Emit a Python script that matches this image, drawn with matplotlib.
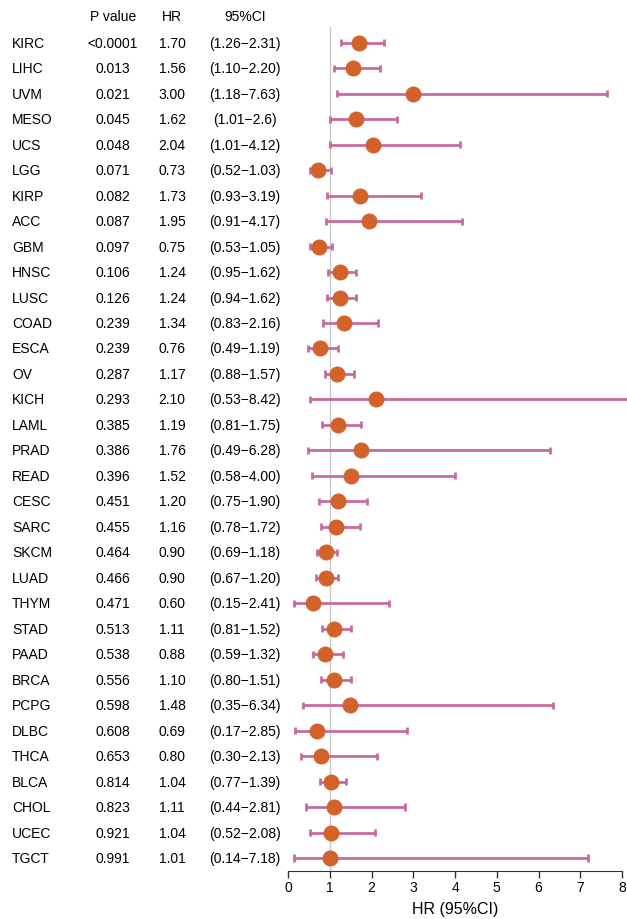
import matplotlib.pyplot as plt

plt.rcParams['font.family'] = ['Liberation Sans', 'DejaVu Sans']

# data
cancers = ['KIRC', 'LIHC', 'UVM', 'MESO', 'UCS', 'LGG', 'KIRP', 'ACC', 'GBM', 'HNSC',
           'LUSC', 'COAD', 'ESCA', 'OV', 'KICH', 'LAML', 'PRAD', 'READ', 'CESC', 'SARC',
           'SKCM', 'LUAD', 'THYM', 'STAD', 'PAAD', 'BRCA', 'PCPG', 'DLBC', 'THCA', 'BLCA',
           'CHOL', 'UCEC', 'TGCT']
pvals = ['<0.0001', '0.013', '0.021', '0.045', '0.048', '0.071', '0.082', '0.087', '0.097', '0.106',
         '0.126', '0.239', '0.239', '0.287', '0.293', '0.385', '0.386', '0.396', '0.451', '0.455',
         '0.464', '0.466', '0.471', '0.513', '0.538', '0.556', '0.598', '0.608', '0.653', '0.814',
         '0.823', '0.921', '0.991']
hr = [1.70, 1.56, 3.00, 1.62, 2.04, 0.73, 1.73, 1.95, 0.75, 1.24,
      1.24, 1.34, 0.76, 1.17, 2.10, 1.19, 1.76, 1.52, 1.20, 1.16,
      0.90, 0.90, 0.60, 1.11, 0.88, 1.10, 1.48, 0.69, 0.80, 1.04,
      1.11, 1.04, 1.01]
lo = [1.26, 1.10, 1.18, 1.01, 1.01, 0.52, 0.93, 0.91, 0.53, 0.95,
      0.94, 0.83, 0.49, 0.88, 0.53, 0.81, 0.49, 0.58, 0.75, 0.78,
      0.69, 0.67, 0.15, 0.81, 0.59, 0.80, 0.35, 0.17, 0.30, 0.77,
      0.44, 0.52, 0.14]
hi = [2.31, 2.20, 7.63, 2.6, 4.12, 1.03, 3.19, 4.17, 1.05, 1.62,
      1.62, 2.16, 1.19, 1.57, 8.42, 1.75, 6.28, 4.00, 1.90, 1.72,
      1.18, 1.20, 2.41, 1.52, 1.32, 1.51, 6.34, 2.85, 2.13, 1.39,
      2.81, 2.08, 7.18]
ci_text = ['(1.26\u22122.31)', '(1.10\u22122.20)', '(1.18\u22127.63)', '(1.01\u22122.6)', '(1.01\u22124.12)',
           '(0.52\u22121.03)', '(0.93\u22123.19)', '(0.91\u22124.17)', '(0.53\u22121.05)', '(0.95\u22121.62)',
           '(0.94\u22121.62)', '(0.83\u22122.16)', '(0.49\u22121.19)', '(0.88\u22121.57)', '(0.53\u22128.42)',
           '(0.81\u22121.75)', '(0.49\u22126.28)', '(0.58\u22124.00)', '(0.75\u22121.90)', '(0.78\u22121.72)',
           '(0.69\u22121.18)', '(0.67\u22121.20)', '(0.15\u22122.41)', '(0.81\u22121.52)', '(0.59\u22121.32)',
           '(0.80\u22121.51)', '(0.35\u22126.34)', '(0.17\u22122.85)', '(0.30\u22122.13)', '(0.77\u22121.39)',
           '(0.44\u22122.81)', '(0.52\u22122.08)', '(0.14\u22127.18)']

n = len(cancers)
ys = [n - i for i in range(n)]

fig = plt.figure(figsize=(6.27, 9.2), dpi=100)
ax = fig.add_axes([288 / 627, 48 / 920, 334 / 627, (872 - 28) / 920])

bar_col = '#c66ba0'
dot_col = '#d2622a'

ax.axvline(1, color='#c8c8c8', lw=1, zorder=0)
for y, l, h in zip(ys, lo, hi):
    if h > 8:
        # runs off the right edge of the plot
        ax.hlines(y, l, 8.2, color=bar_col, lw=2, zorder=1, clip_on=False)
        ax.vlines(l, y - 0.14, y + 0.14, color=bar_col, lw=2, zorder=1)
    else:
        ax.hlines(y, l, h, color=bar_col, lw=2, zorder=1)
        ax.vlines([l, h], y - 0.14, y + 0.14, color=bar_col, lw=2, zorder=1)
ax.plot(hr, ys, 'o', color=dot_col, ms=10.5, zorder=2, clip_on=False)

ax.set_xlim(0, 8)
ax.set_ylim(0.49, n + 0.62)
ax.set_xticks(range(9))
ax.tick_params(axis='x', labelsize=10, length=5, width=1, color='#333333', pad=1.5)
ax.set_yticks([])
for s in ['top', 'right', 'left']:
    ax.spines[s].set_visible(False)
ax.spines['bottom'].set_color('#333333')
ax.set_xlabel('HR (95%CI)', fontsize=11.5, labelpad=5)

# text table on the left
def fx(px):
    return px / 627

for y, c, p, h, t in zip(ys, cancers, pvals, hr, ci_text):
    yf = ax.transData.transform((0, y))[1]
    yfig = fig.transFigure.inverted().transform((0, yf))[1]
    fig.text(fx(12), yfig, c, ha='left', va='center', fontsize=10)
    fig.text(fx(113), yfig, p, ha='center', va='center', fontsize=10)
    fig.text(fx(172), yfig, '%.2f' % h, ha='center', va='center', fontsize=10)
    fig.text(fx(245), yfig, t, ha='center', va='center', fontsize=10)

yh = (920 - 17) / 920
fig.text(fx(113), yh, 'P value', ha='center', va='center', fontsize=10)
fig.text(fx(172), yh, 'HR', ha='center', va='center', fontsize=10)
fig.text(fx(245), yh, '95%CI', ha='center', va='center', fontsize=10)

fig.savefig('out.png', dpi=100)
